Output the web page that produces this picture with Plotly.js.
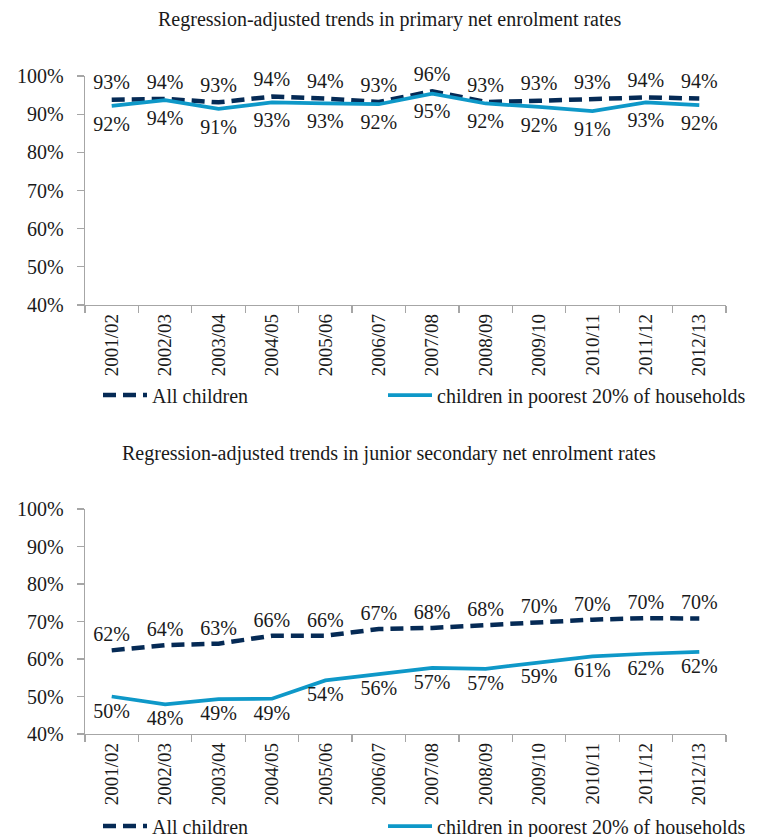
<!DOCTYPE html>
<html>
<head>
<meta charset="utf-8">
<script src="https://cdn.plot.ly/plotly-3.0.1.min.js"></script>
<style>html,body{margin:0;padding:0;background:#fff;}#chart{width:761px;height:837px;}</style>
</head>
<body>
<div id="chart"></div>
<script>
// ---- data ----
var years = ["2001/02","2002/03","2003/04","2004/05","2005/06","2006/07","2007/08","2008/09","2009/10","2010/11","2011/12","2012/13"];

var primaryAll = [93.8, 94.0, 93.1, 94.6, 94.1, 93.2, 96.0, 93.2, 93.5, 93.9, 94.4, 94.1];
var primaryAllLabels = ["93%","94%","93%","94%","94%","93%","96%","93%","93%","93%","94%","94%"];
var primaryPoor = [92.2, 93.7, 91.4, 93.1, 92.8, 92.6, 95.4, 92.8, 91.9, 90.8, 93.1, 92.4];
var primaryPoorLabels = ["92%","94%","91%","93%","93%","92%","95%","92%","92%","91%","93%","92%"];

var secondaryAll = [62.3, 63.7, 64.1, 66.2, 66.2, 68.0, 68.3, 69.1, 69.8, 70.5, 70.9, 70.8];
var secondaryAllLabels = ["62%","64%","63%","66%","66%","67%","68%","68%","70%","70%","70%","70%"];
var secondaryPoor = [50.0, 47.9, 49.3, 49.4, 54.3, 56.0, 57.6, 57.4, 59.1, 60.7, 61.4, 61.9];
var secondaryPoorLabels = ["50%","48%","49%","49%","54%","56%","57%","57%","59%","61%","62%","62%"];

var seriesNames = ["All children", "children in poorest 20% of households"];
var titles = ["Regression-adjusted trends in primary net enrolment rates",
              "Regression-adjusted trends in junior secondary net enrolment rates"];

// ---- styles ----
var FONT = "'Liberation Serif', 'Times New Roman', serif";
var navy = "#052a55";
var blue = "#0e98c8";
var gray = "#a6a6a6";
var txt = "#1a1a1a";
var clear = "rgba(0,0,0,0)";

function allTrace(y, labels, xa, ya, leg, pad) {
  return {x: years, y: y, text: labels, xaxis: xa, yaxis: ya, legend: leg,
    type: "scatter", mode: "lines+markers+text", name: seriesNames[0],
    textposition: "top center", cliponaxis: false,
    marker: {size: pad, color: clear, line: {width: 0}},
    textfont: {family: FONT, size: 20, color: txt},
    line: {color: navy, width: 4.5, dash: "13px,7px"}, hoverinfo: "skip"};
}
function poorTrace(y, labels, xa, ya, leg, pad) {
  return {x: years, y: y, text: labels, xaxis: xa, yaxis: ya, legend: leg,
    type: "scatter", mode: "lines+markers+text", name: seriesNames[1],
    textposition: "bottom center", cliponaxis: false,
    marker: {size: pad, color: clear, line: {width: 0}},
    textfont: {family: FONT, size: 20, color: txt},
    line: {color: blue, width: 3.75}, hoverinfo: "skip"};
}

var data = [
  allTrace(primaryAll, primaryAllLabels, "x", "y", "legend", 7),
  poorTrace(primaryPoor, primaryPoorLabels, "x", "y", "legend2", 14),
  allTrace(secondaryAll, secondaryAllLabels, "x2", "y2", "legend3", 5),
  poorTrace(secondaryPoor, secondaryPoorLabels, "x2", "y2", "legend4", 8)
];

function xax(anchor) {
  return {type: "category", anchor: anchor, domain: [0, 1], range: [-0.5, 11.5],
    showline: true, linecolor: gray, linewidth: 1.3, showgrid: false, zeroline: false,
    ticks: "outside", tickson: "boundaries", ticklen: 7, tickcolor: gray, tickwidth: 1.3,
    tickangle: -90, tickfont: {family: FONT, size: 19, color: txt}, fixedrange: true};
}
function yax(anchor, dom) {
  return {anchor: anchor, domain: dom, range: [40, 100], dtick: 10, ticksuffix: "%",
    showline: true, linecolor: gray, linewidth: 1.3, showgrid: false, zeroline: false,
    ticks: "outside", ticklen: 7, tickcolor: gray, tickwidth: 1.3, ticklabelstandoff: 9,
    tickfont: {family: FONT, size: 20, color: txt}, fixedrange: true};
}
function leg(xpx, ypx) {
  return {orientation: "h", x: (xpx - 85) / 641, xanchor: "left", y: 1 - ypx / 837, yanchor: "middle",
    font: {family: FONT, size: 20, color: txt}, itemwidth: 44,
    bgcolor: "rgba(0,0,0,0)"};
}

var H = 837;
var layout = {
  width: 761, height: 837,
  margin: {l: 85, r: 35, t: 0, b: 0, autoexpand: false},
  paper_bgcolor: "#fff", plot_bgcolor: "#fff",
  showlegend: true,
  xaxis: xax("y"), yaxis: yax("x", [1 - 305/H, 1 - 76/H]),
  xaxis2: xax("y2"), yaxis2: yax("x2", [1 - 734/H, 1 - 509/H]),
  legend: leg(98, 395),
  legend2: leg(383, 395),
  legend3: leg(98, 826),
  legend4: leg(383, 826),
  annotations: [
    {text: titles[0], xref: "paper", yref: "paper", x: 0.475, y: 1 - 20/H, xanchor: "center", yanchor: "middle",
     showarrow: false, font: {family: FONT, size: 20, color: txt}},
    {text: titles[1], xref: "paper", yref: "paper", x: 0.475, y: 1 - 453/H, xanchor: "center", yanchor: "middle",
     showarrow: false, font: {family: FONT, size: 20, color: txt}}
  ]
};

Plotly.newPlot("chart", data, layout, {displayModeBar: false, staticPlot: true});
</script>
</body>
</html>
